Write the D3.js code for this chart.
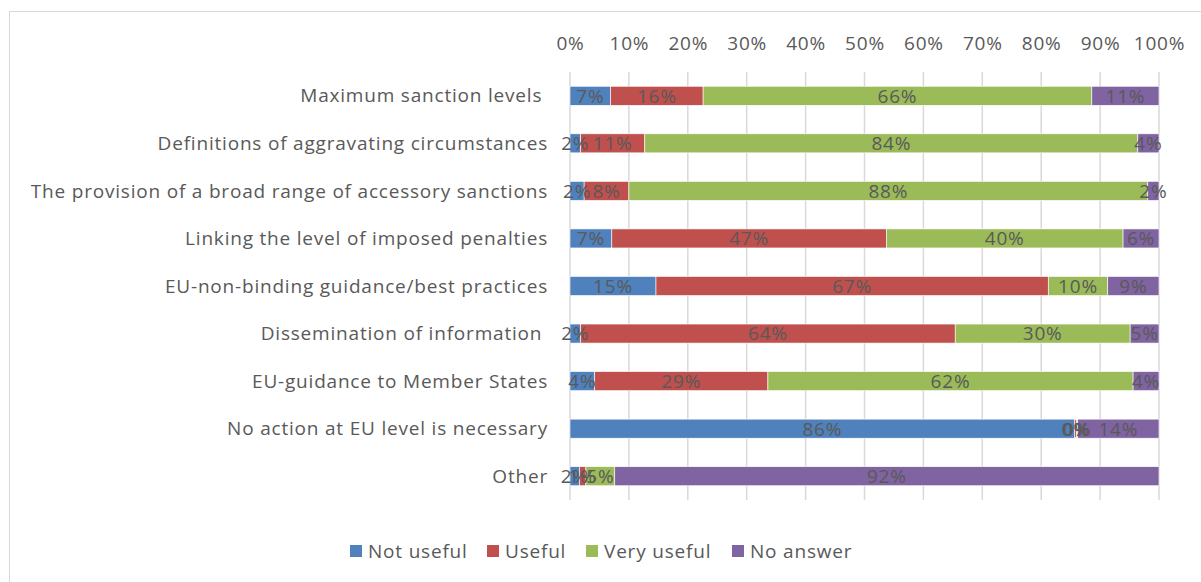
<!DOCTYPE html>
<html>
<head>
<meta charset="utf-8">
<script src="https://cdn.jsdelivr.net/npm/d3@7"></script>
<style>
  body { margin: 0; background: #fff; }
  svg text { font-family: "Open Sans", sans-serif; fill: #595959; letter-spacing: 0.8px; }
</style>
</head>
<body>
<svg id="chart" width="1201" height="582"></svg>
<script>
const categories = [
  'Maximum sanction levels ',
  'Definitions of aggravating circumstances',
  'The provision of a broad range of accessory sanctions',
  'Linking the level of imposed penalties',
  'EU-non-binding guidance/best practices',
  'Dissemination of information ',
  'EU-guidance to Member States',
  'No action at EU level is necessary',
  'Other'
];
const seriesNames = ['Not useful', 'Useful', 'Very useful', 'No answer'];
const notUseful  = [6.9, 1.8, 2.4, 7.1, 14.6, 1.8, 4.2, 85.7, 1.6];
const useful     = [15.7, 10.9, 7.6, 46.6, 66.6, 63.6, 29.4, 0.3, 1.1];
const veryUseful = [66.0, 83.7, 88.1, 40.2, 10.1, 29.7, 62.0, 0.2, 4.9];
const noAnswer   = [11.4, 3.6, 1.9, 6.1, 8.7, 4.9, 4.4, 13.8, 92.4];
const ticks = [0, 10, 20, 30, 40, 50, 60, 70, 80, 90, 100];
const colors = ['#4F81BD', '#C0504D', '#9BBB59', '#8064A2'];

const svg = d3.select('#chart');
const margin = {left: 570, right: 42, top: 72, bottom: 82};
const width = 1201, height = 582;
const fs = '19px';

svg.append('rect')
  .attr('x', 9.5).attr('y', 11.5)
  .attr('width', 1200).attr('height', 580)
  .attr('fill', 'none').attr('stroke', '#d9d9d9');

const x = d3.scaleLinear().domain([0, 100]).range([margin.left, width - margin.right]);
const y = d3.scaleBand().domain(categories).range([margin.top, height - margin.bottom]).paddingInner(0.6).paddingOuter(0.3);

// grid
svg.append('g')
  .selectAll('line')
  .data(ticks)
  .join('line')
  .attr('x1', d => x(d)).attr('x2', d => x(d))
  .attr('y1', margin.top).attr('y2', height - margin.bottom)
  .attr('stroke', '#d9d9d9').attr('stroke-width', 1.5);

// top axis
const axis = svg.append('g')
  .attr('transform', `translate(0,${margin.top})`)
  .call(d3.axisTop(x).tickValues(ticks).tickFormat(d => d + '%').tickSize(0).tickPadding(22));
axis.select('.domain').remove();
axis.selectAll('text').style('font-size', fs).attr('fill', '#595959');

// category labels
svg.append('g')
  .selectAll('text')
  .data(categories)
  .join('text')
  .attr('xml:space', 'preserve')
  .attr('x', margin.left - 22)
  .attr('y', d => y(d) + y.bandwidth() / 2)
  .attr('dy', '0.35em')
  .attr('text-anchor', 'end')
  .style('font-size', fs)
  .text(d => d);

const rows = categories.map((c, i) => ({
  cat: c,
  vals: [notUseful[i], useful[i], veryUseful[i], noAnswer[i]]
}));
const stack = d3.stack().keys([0, 1, 2, 3]).value((d, k) => d.vals[k]);
const layers = stack(rows);

const g = svg.append('g');
layers.forEach((layer, k) => {
  g.selectAll(null)
    .data(layer)
    .join('rect')
    .attr('x', d => x(d[0]))
    .attr('y', d => y(d.data.cat))
    .attr('width', d => x(d[1]) - x(d[0]))
    .attr('height', y.bandwidth())
    .attr('fill', colors[k])
    .attr('stroke', '#fff').attr('stroke-width', 0.6);
});
layers.forEach((layer, k) => {
  g.selectAll(null)
    .data(layer)
    .join('text')
    .attr('x', d => (x(d[0]) + x(d[1])) / 2)
    .attr('y', d => y(d.data.cat) + y.bandwidth() / 2)
    .attr('dy', '0.36em')
    .attr('text-anchor', 'middle')
    .style('font-size', fs)
    .text(d => Math.round(d[1] - d[0]) + '%');
});

// legend
const legendX = [350, 487, 586, 732];
const lg = svg.append('g');
seriesNames.forEach((s, i) => {
  lg.append('rect').attr('x', legendX[i]).attr('y', 545).attr('width', 12).attr('height', 12).attr('fill', colors[i]);
  lg.append('text').attr('x', legendX[i] + 18).attr('y', 551).attr('dy', '0.36em')
    .style('font-size', fs).text(s);
});
</script>
</body>
</html>
